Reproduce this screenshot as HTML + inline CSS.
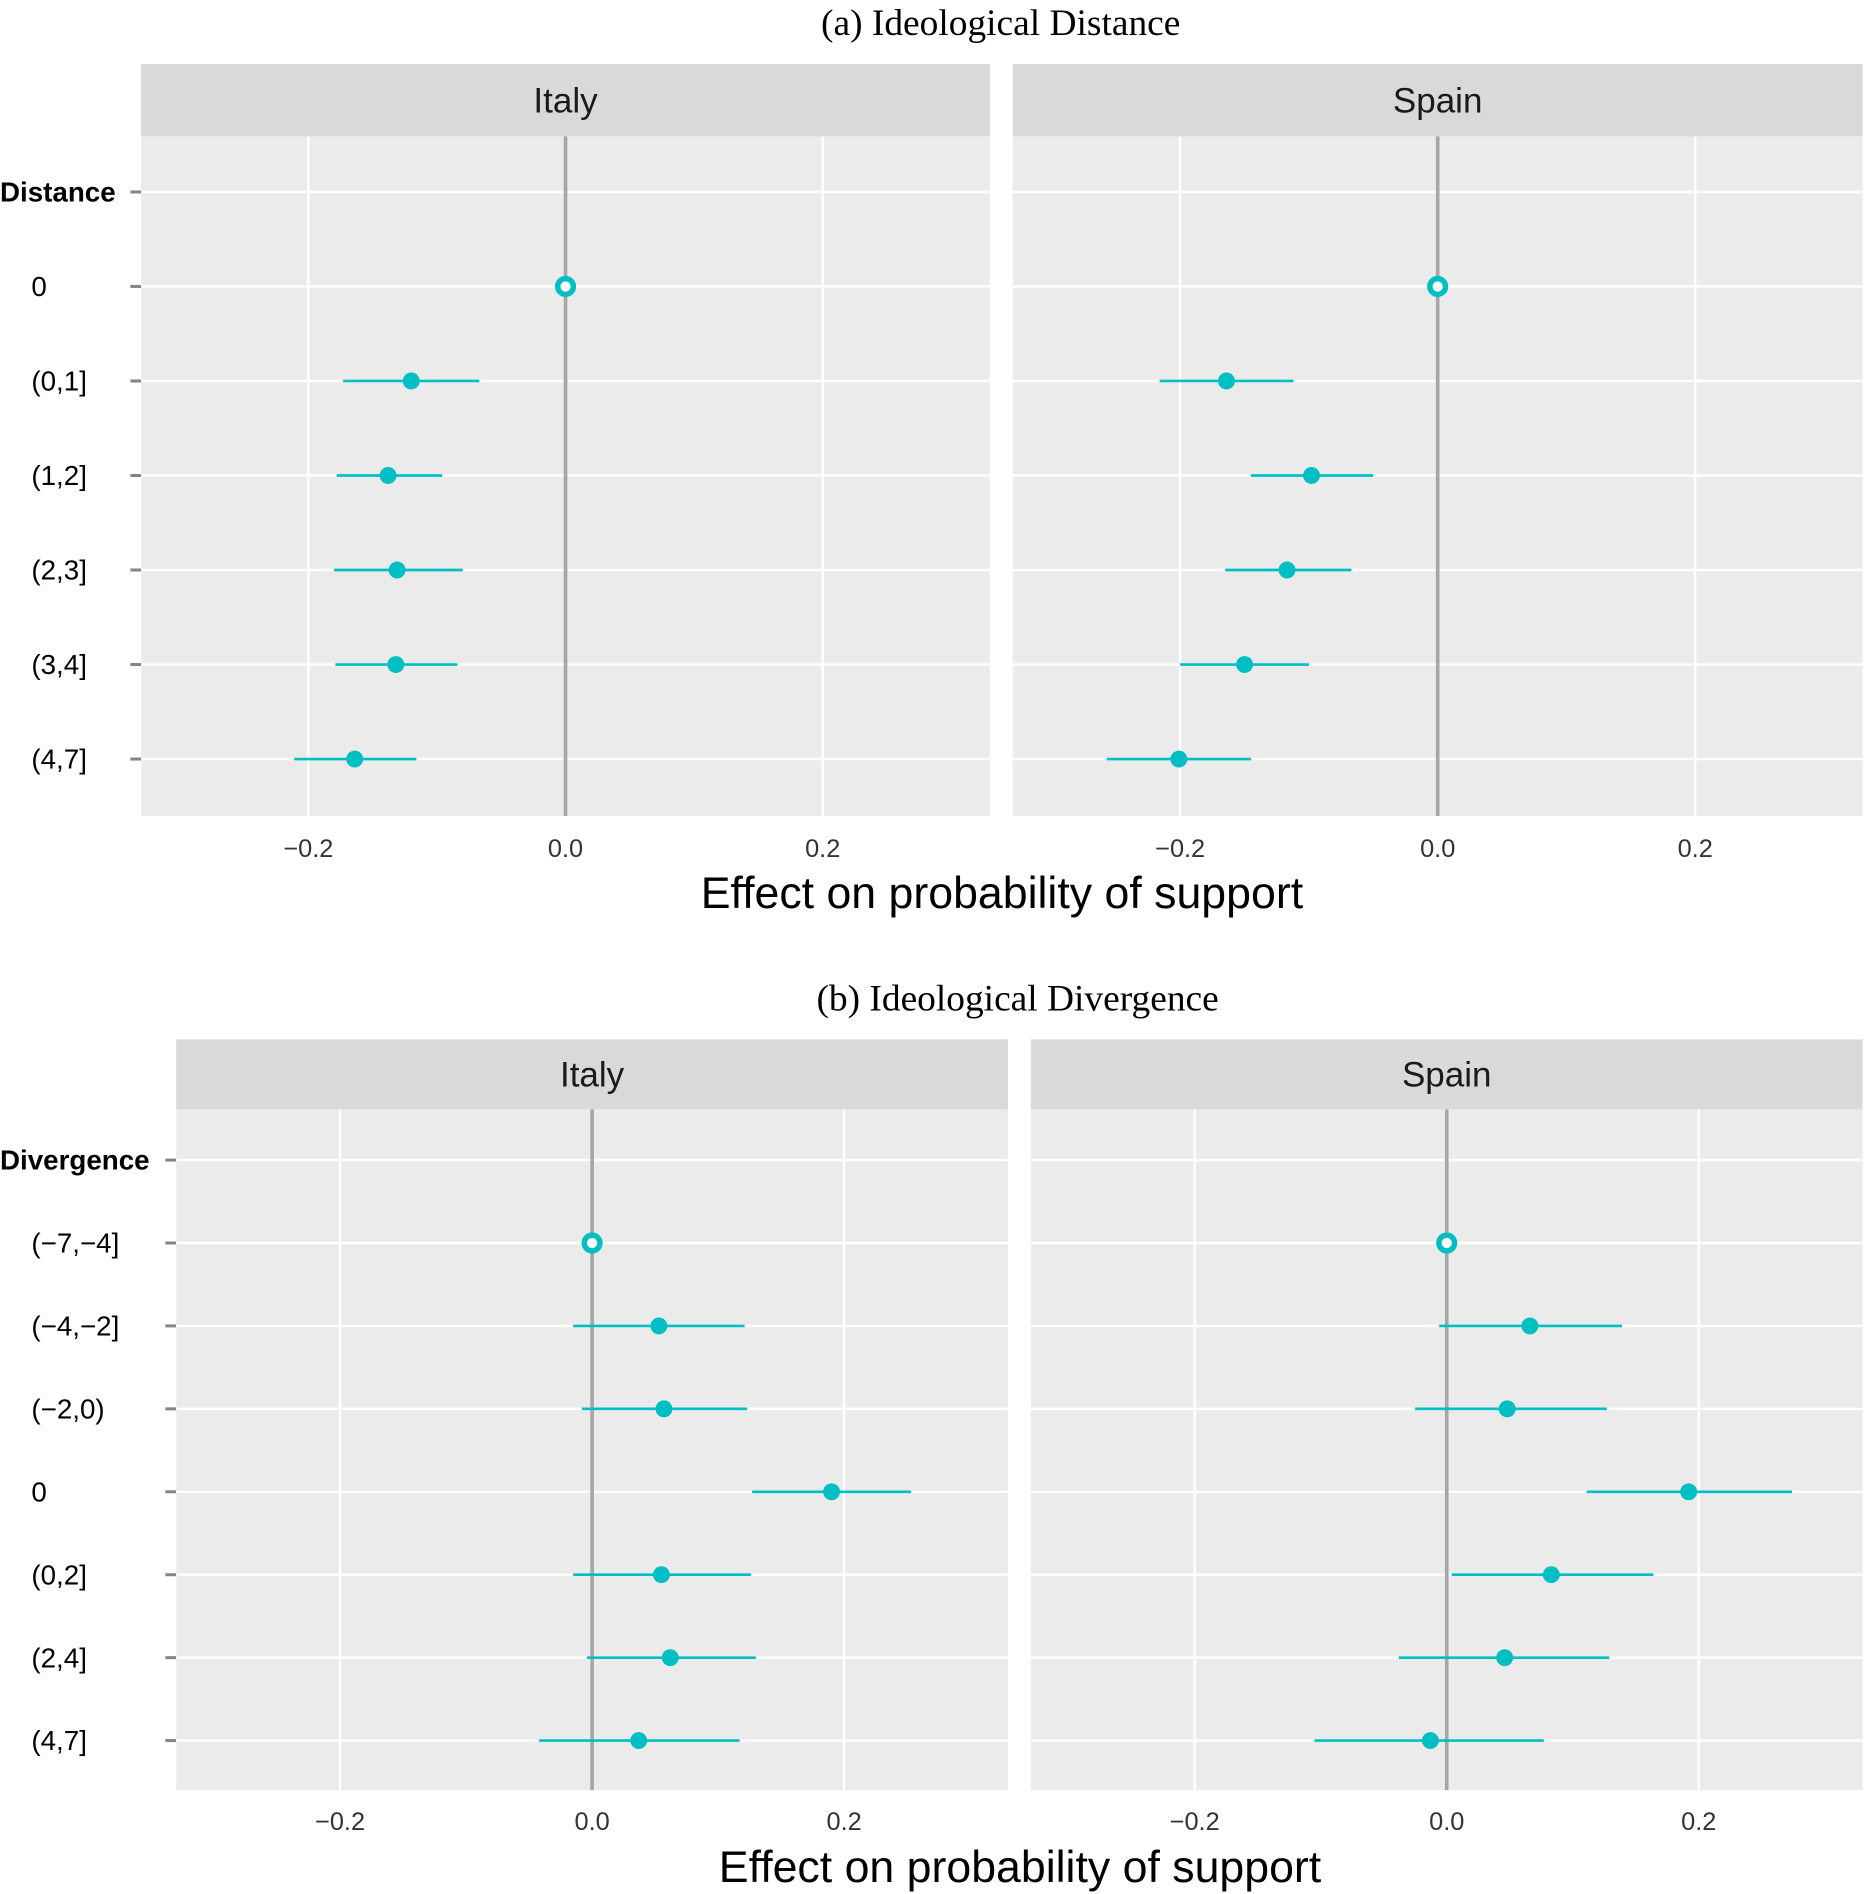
<!DOCTYPE html>
<html><head><meta charset="utf-8">
<style>
html,body{margin:0;padding:0;background:#fff;}
svg{display:block;}
text{font-family:"Liberation Sans",sans-serif;}
</style></head>
<body>
<svg id="chart" width="1865" height="1894" viewBox="0 0 1545 1569" preserveAspectRatio="none" xmlns="http://www.w3.org/2000/svg">
<text x="829" y="29" text-anchor="middle" font-size="31" style="font-family:'Liberation Serif',serif">(a) Ideological Distance</text>
<text x="843" y="837" text-anchor="middle" font-size="31" style="font-family:'Liberation Serif',serif">(b) Ideological Divergence</text>
</svg>
<script>
const distCats = ["Distance","0","(0,1]","(1,2]","(2,3]","(3,4]","(4,7]"];
const distItalyEst = [null,0,-0.120,-0.138,-0.131,-0.132,-0.164];
const distItalyLo  = [null,0,-0.173,-0.178,-0.180,-0.179,-0.211];
const distItalyHi  = [null,0,-0.067,-0.096,-0.080,-0.084,-0.116];
const distSpainEst = [null,0,-0.164,-0.098,-0.117,-0.150,-0.201];
const distSpainLo  = [null,0,-0.216,-0.145,-0.165,-0.200,-0.257];
const distSpainHi  = [null,0,-0.112,-0.050,-0.067,-0.100,-0.145];
const divCats = ["Divergence","(\u22127,\u22124]","(\u22124,\u22122]","(\u22122,0)","0","(0,2]","(2,4]","(4,7]"];
const divItalyEst = [null,0,0.053,0.057,0.190,0.055,0.062,0.037];
const divItalyLo  = [null,0,-0.015,-0.008,0.127,-0.015,-0.004,-0.042];
const divItalyHi  = [null,0,0.121,0.123,0.253,0.126,0.130,0.117];
const divSpainEst = [null,0,0.066,0.048,0.192,0.083,0.046,-0.013];
const divSpainLo  = [null,0,-0.006,-0.025,0.111,0.004,-0.038,-0.105];
const divSpainHi  = [null,0,0.139,0.127,0.274,0.164,0.129,0.077];
const xTicks = [-0.2,0.0,0.2];
const xTickLabels = ["\u22120.2","0.0","0.2"];
const xDomain = [-0.33,0.33];

const NS="http://www.w3.org/2000/svg";
const svg=document.getElementById('chart');
function mk(tag,attrs,parent){const e=document.createElementNS(NS,tag);for(const k in attrs)e.setAttribute(k,attrs[k]);(parent||svg).appendChild(e);return e;}

function panelGroup(cfg){
  const {cats,facets,stripTop,plotTop,plotBot,firstY,step,tickY,titleY,titleX,boldName} = cfg;
  const y = i => firstY + i*step;
  cats.forEach((c,i)=>{
    const t=mk('text',{x:i===0?0:26,y:y(i)+8,'font-size':23,'font-weight':i===0?'bold':'normal'});
    
    
    t.textContent=c;
    const tk=mk('line',{x1:facets[0].x0-9,x2:facets[0].x0,y1:y(i),y2:y(i),stroke:'#333','stroke-width':2.5,'stroke-opacity':0.6});
    
    
  });
  facets.forEach(f=>{
    const sx = v => f.x0 + (v - xDomain[0])/(xDomain[1]-xDomain[0])*(f.x1-f.x0);
    const g=mk('g',{});
    
    
    const st=mk('rect',{x:f.x0,y:stripTop,width:f.x1-f.x0,height:plotTop-stripTop,fill:'#D9D9D9'},g);
    
    
    const stt=mk('text',{x:(f.x0+f.x1)/2,y:(stripTop+plotTop)/2+10,'text-anchor':'middle','font-size':29,fill:'#1a1a1a'},g);
    
    
    stt.textContent=f.name;
    const bg=mk('rect',{x:f.x0,y:plotTop,width:f.x1-f.x0,height:plotBot-plotTop,fill:'#EBEBEB'},g);
    
    
    xTicks.forEach((v,i)=>{
      const gl=mk('line',{x1:sx(v),x2:sx(v),y1:plotTop,y2:plotBot,stroke:'#fff','stroke-width':2},g);
      
      
      const tl=mk('text',{x:sx(v),y:tickY,'text-anchor':'middle','font-size':21,fill:'#333'},g);
      
      
      tl.textContent=xTickLabels[i];
    });
    cats.forEach((c,i)=>{
      const hl=mk('line',{x1:f.x0,x2:f.x1,y1:y(i),y2:y(i),stroke:'#fff','stroke-width':2},g);
      
      
    });
    const zl=mk('line',{x1:sx(0),x2:sx(0),y1:plotTop,y2:plotBot,stroke:'#A6A6A6','stroke-width':3},g);
    
    
    cats.forEach((c,i)=>{
      const e=f.est[i]; if(e===null) return;
      if(i===1){
        const p=mk('circle',{cx:sx(e),cy:y(i),r:6.5,fill:'#fff',stroke:'#00BFC4','stroke-width':4.5},g);
        
        
        return;
      }
      const el=mk('line',{x1:sx(f.lo[i]),x2:sx(f.hi[i]),y1:y(i),y2:y(i),stroke:'#00BFC4','stroke-width':2.2},g);
      
      
      const p=mk('circle',{cx:sx(e),cy:y(i),r:7,fill:'#00BFC4'},g);
      
      
    });
  });
  const at=mk('text',{x:titleX,y:titleY,'text-anchor':'middle','font-size':37,fill:'#000'});
  
  
  at.textContent='Effect on probability of support';
}

panelGroup({cats:distCats,stripTop:53,plotTop:113,plotBot:676,firstY:159,step:78.3,tickY:710,titleY:752,titleX:830,boldName:'distance',
  facets:[{name:'Italy',x0:117,x1:820,est:distItalyEst,lo:distItalyLo,hi:distItalyHi},
          {name:'Spain',x0:839,x1:1543,est:distSpainEst,lo:distSpainLo,hi:distSpainHi}]});
panelGroup({cats:divCats,stripTop:861,plotTop:919,plotBot:1483,firstY:961,step:68.7,tickY:1516,titleY:1559,titleX:845,boldName:'divergence',
  facets:[{name:'Italy',x0:146,x1:835,est:divItalyEst,lo:divItalyLo,hi:divItalyHi},
          {name:'Spain',x0:854,x1:1543,est:divSpainEst,lo:divSpainLo,hi:divSpainHi}]});
</script>
</body></html>
